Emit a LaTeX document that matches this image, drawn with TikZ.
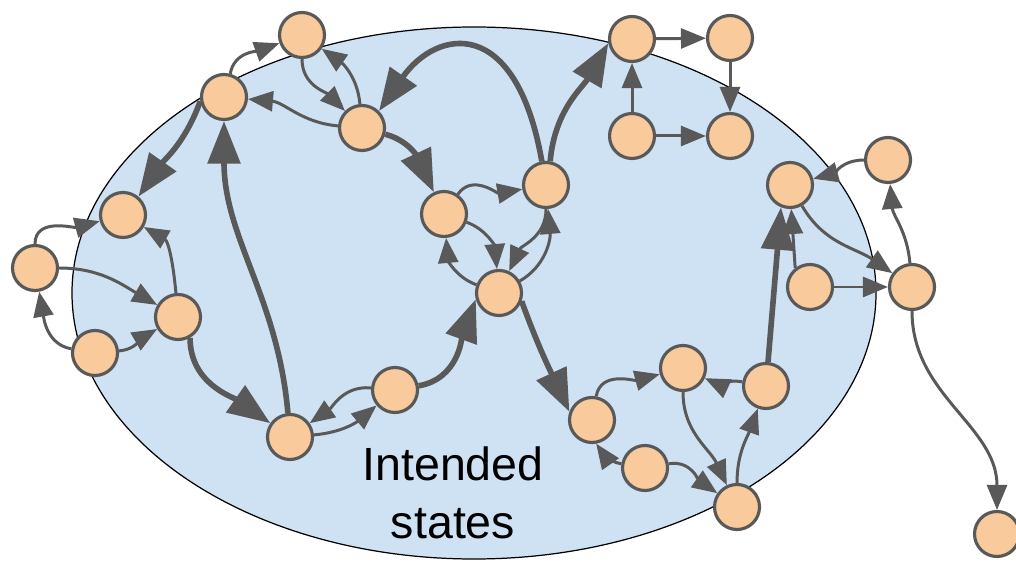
\documentclass[tikz,border=0pt]{standalone}
\usepackage{fontspec}
\setmainfont{Liberation Sans}
\usetikzlibrary{arrows.meta}
\definecolor{dgray}{HTML}{595959}
\definecolor{peach}{HTML}{F9CB9C}
\definecolor{paleblue}{HTML}{CFE2F3}
\begin{document}
\begin{tikzpicture}[x=0.02cm, y=0.02cm,
  state/.style = {circle, draw=dgray, fill=peach, line width=1.8pt, minimum size=0.9cm, inner sep=0pt},
  ar/.style = {draw=dgray, line width=1.7pt, -{Triangle[length=0.5cm,width=0.4cm]}},
  bigar/.style = {draw=dgray, line width=3.2pt, -{Triangle[length=0.85cm,width=0.64cm]}}]
  \useasboundingbox (0,0) rectangle (1016,564);
  \draw[fill=paleblue, line width=0.7pt] (474,271) ellipse [x radius=402, y radius=266];
  \node (t1) at (453,84) [anchor=base, font=\fontsize{26.5}{30}\selectfont] {Intended};
  \node (t2) at (453,26) [anchor=base, font=\fontsize{26.5}{30}\selectfont] {states};
  \node[state] (s1) at (35,296) {};
  \node[state] (s2) at (123,349) {};
  \node[state] (s3) at (224,467) {};
  \node[state] (s4) at (302,529) {};
  \node[state] (s5) at (362,436) {};
  \node[state] (s6) at (444,350) {};
  \node[state] (s7) at (546,379) {};
  \node[state] (s8) at (499,271) {};
  \node[state] (s9) at (632,525) {};
  \node[state] (s10) at (730,526) {};
  \node[state] (s11) at (632,428) {};
  \node[state] (s12) at (730,428) {};
  \node[state] (s13) at (790,379) {};
  \node[state] (s14) at (888,404) {};
  \node[state] (s15) at (810,277) {};
  \node[state] (s16) at (912,277) {};
  \node[state] (s17) at (997,30) {};
  \node[state] (s18) at (178,247) {};
  \node[state] (s19) at (95,211) {};
  \node[state] (s20) at (290,127) {};
  \node[state] (s21) at (395,174) {};
  \node[state] (s22) at (592,144) {};
  \node[state] (s23) at (683,196) {};
  \node[state] (s24) at (766,178) {};
  \node[state] (s25) at (645,96) {};
  \node[state] (s26) at (737,57) {};
  % left group
  \draw[ar] (s1) to[out=90,in=195] (s2);
  \draw[ar] (s1) to[out=0,in=150] (s18);
  \draw[ar] (s19) to[out=170,in=-80] (s1);
  \draw[ar] (s19) to[out=5,in=210] (s18);
  \draw[ar] (s18) to[out=95,in=-30] (s2);
  \draw[bigar] (s3.190) to[out=250,in=55] (s2.50);
  \draw[bigar] (s18.-60) to[out=-90,in=145] (s20);
  \draw[bigar] (s20.95) to[out=95,in=-90] (s3);
  \draw[ar] (s21) to[out=175,in=35] (s20);
  \draw[ar] (s20) to[out=5,in=-140] (s21);
  \draw[bigar] (s21) to[out=10,in=-110] (s8.195);
  % top group
  \draw[ar] (s3.75) to[out=80,in=200] (s4);
  \draw[ar] (s5) to[out=175,in=-5] (s3);
  \draw[ar] (s4) to[out=-90,in=135] (s5);
  \draw[ar] (s5.95) to[out=95,in=-35] (s4);
  \draw[bigar] (s7.100) .. controls +(100:150) and +(55:100) .. (s5.45);
  \draw[bigar] (s5) to[out=-15,in=115] (s6);
  \draw[ar] (s6) to[out=55,in=190] (s7);
  \draw[ar] (s6) to[out=-20,in=95] (s8);
  \draw[ar] (s7) to[out=-90,in=65] (s8);
  \draw[ar] (s8) to[out=30,in=-85] (s7);
  \draw[ar] (s8) to[out=160,in=-85] (s6);
  \draw[bigar] (s7.80) to[out=85,in=240] (s9.190);
  \draw[ar] (s9) -- (s10);
  \draw[ar] (s11) -- (s9);
  \draw[ar] (s11) -- (s12);
  \draw[ar] (s10) -- (s12);
  % right group
  \draw[ar] (s14) to[out=180,in=15] (s13);
  \draw[ar] (s13) to[out=-60,in=145] (s16);
  \draw[ar] (s16) to[out=95,in=-85] (s14);
  \draw[ar] (s15.128) -- (s13.-87);
  \draw[ar] (s15) -- (s16);
  \draw[ar] (s16) to[out=-90,in=90] (s17);
  \draw[bigar] (s24) -- (s13.-112);
  % bottom group
  \draw[bigar] (s8.-20) to[out=-70,in=115] (s22.160);
  \draw[ar] (s22) to[out=80,in=195] (s23);
  \draw[ar] (s24) to[out=170,in=-25] (s23);
  \draw[ar] (s23) to[out=-90,in=115] (s26);
  \draw[ar] (s26) to[out=90,in=-110] (s24);
  \draw[ar] (s25) to[out=10,in=145] (s26);
  \draw[ar] (s25) to[out=170,in=-55] (s22.-80);
\end{tikzpicture}
\end{document}
